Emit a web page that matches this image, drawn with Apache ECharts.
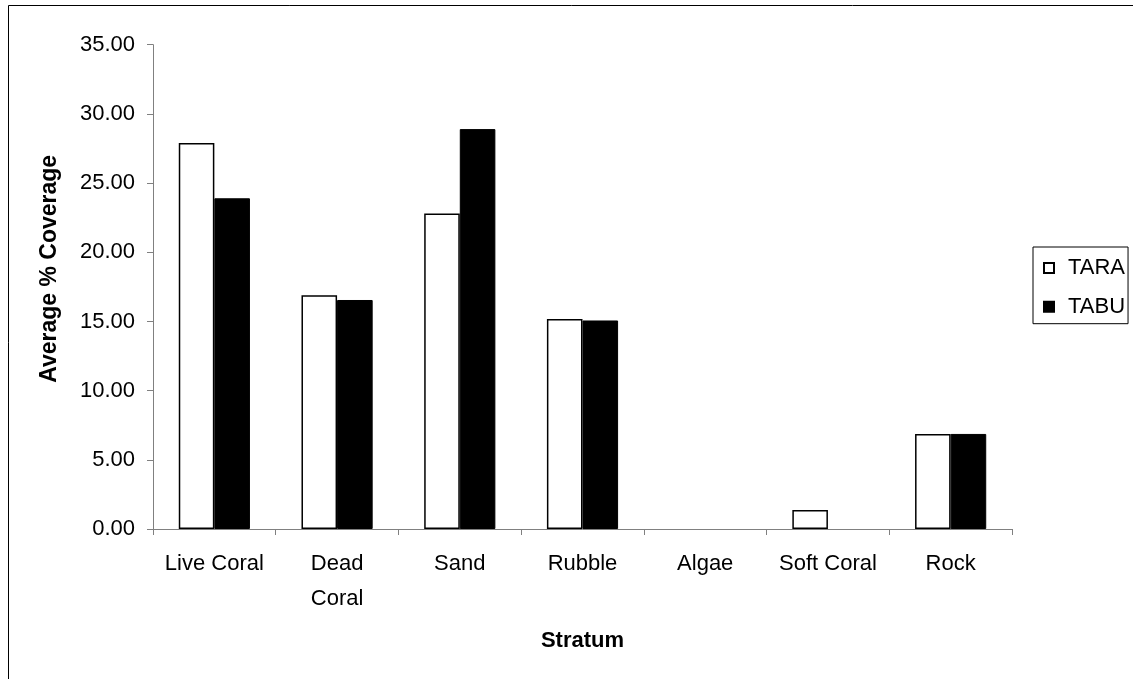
<!DOCTYPE html>
<html>
<head>
<meta charset="utf-8">
<script src="https://cdn.jsdelivr.net/npm/echarts@6/dist/echarts.min.js"></script>
<style>html,body{margin:0;padding:0;background:#fff}#c{width:1133px;height:679px}</style>
</head>
<body>
<div id="c"></div>
<script>
const categories = ['Live Coral', 'Dead Coral', 'Sand', 'Rubble', 'Algae', 'Soft Coral', 'Rock'];
const taraValues = [27.9, 16.9, 22.8, 15.17, 0, 1.37, 6.87];
const tabuValues = [23.9, 16.55, 28.9, 15.07, 0, 0, 6.87];
const yTicks = { min: 0, max: 35, interval: 5 };

const chart = echarts.init(document.getElementById('c'));
const font = 'Liberation Sans, Arial, sans-serif';
const fs = 22;
const toData = arr => arr.map(v => v === 0 ? { value: v, itemStyle: { borderWidth: 0 } } : v);
chart.setOption({
  backgroundColor: '#fff',
  animation: false,
  graphic: [{
    type: 'rect', shape: { x: 8.5, y: 5.5, width: 2000, height: 2000 },
    style: { fill: 'none', stroke: '#000', lineWidth: 1 }, silent: true
  }],
  grid: { left: 153, right: 121, top: 44.7, bottom: 150, containLabel: false },
  legend: {
    orient: 'vertical', left: 1033, top: 247,
    itemWidth: 10, itemHeight: 10, itemGap: 16.7,
    borderColor: '#000', borderWidth: 1, padding: [10, 3, 6, 10],
    textStyle: { fontFamily: font, fontSize: fs, lineHeight: 22, color: '#000', padding: [0, 0, 0, 9] },
    data: [{ name: 'TARA', icon: 'rect' }, { name: 'TABU', icon: 'rect' }]
  },
  xAxis: {
    type: 'category', data: categories,
    name: 'Stratum', nameLocation: 'middle', nameGap: 101,
    nameTextStyle: { fontFamily: font, fontSize: fs, fontWeight: 'bold', color: '#000' },
    axisLine: { lineStyle: { color: '#808080', width: 1 } },
    axisTick: { show: true, length: 6, lineStyle: { color: '#808080' } },
    axisLabel: {
      fontFamily: font, fontSize: fs, color: '#000', margin: 17, lineHeight: 35, interval: 0,
      formatter: v => v === 'Dead Coral' ? 'Dead\nCoral' : v
    },
    splitLine: { show: false }
  },
  yAxis: {
    type: 'value', min: yTicks.min, max: yTicks.max, interval: yTicks.interval,
    name: 'Average % Coverage', nameLocation: 'middle', nameGap: 92, nameRotate: 90,
    nameTextStyle: { fontFamily: font, fontSize: 23, fontWeight: 'bold', color: '#000', padding: [0, 0, 0, 36] },
    axisLine: { show: true, lineStyle: { color: '#808080', width: 1 } },
    axisTick: { show: true, length: 6, lineStyle: { color: '#808080' } },
    axisLabel: { fontFamily: font, fontSize: fs, color: '#000', margin: 18, formatter: v => v.toFixed(2) },
    splitLine: { show: false }
  },
  series: [
    {
      name: 'TARA', type: 'bar', data: toData(taraValues), barGap: '0%', barCategoryGap: '42%',
      itemStyle: { color: '#fff', borderColor: '#000', borderWidth: 1.5 }
    },
    {
      name: 'TABU', type: 'bar', data: toData(tabuValues),
      itemStyle: { color: '#000', borderColor: '#000', borderWidth: 1 }
    }
  ]
});
</script>
</body>
</html>
